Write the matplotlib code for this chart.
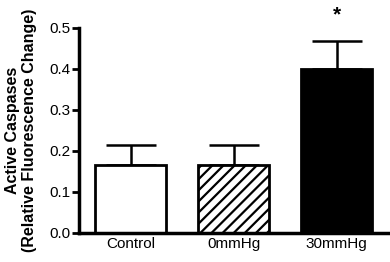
import matplotlib
matplotlib.use("Agg")
import matplotlib.pyplot as plt

plt.rcParams['font.family'] = ['Liberation Sans', 'DejaVu Sans']
plt.rcParams['hatch.linewidth'] = 1.6

categories = ["Control", "0mmHg", "30mmHg"]
means = [0.167, 0.167, 0.399]
errors = [0.048, 0.048, 0.070]
facecolors = ["white", "white", "black"]
hatches = ["", "///", ""]
yticks = [0.0, 0.1, 0.2, 0.3, 0.4, 0.5]
ytick_labels = ["0.0", "0.1", "0.2", "0.3", "0.4", "0.5"]
significance = ["", "", "*"]

fig = plt.figure(figsize=(3.9, 2.62), dpi=100)
ax = fig.add_axes([0.2026, 0.1107, 0.7924, 0.7825])

x = list(range(len(categories)))
for i in x:
    ax.bar(i, means[i], width=0.69, color=facecolors[i], edgecolor="black",
           linewidth=2, hatch=hatches[i], zorder=2)
    ax.errorbar(i, means[i], yerr=[[0], [errors[i]]], fmt="none", ecolor="black",
                elinewidth=1.8, capsize=18, capthick=1.8, zorder=1)
    if significance[i]:
        ax.text(i, means[i] + errors[i] + 0.064, significance[i], ha="center",
                va="center", fontsize=15, fontweight="bold")

ax.set_xlim(-0.5, 2.5)
ax.set_ylim(0, 0.5)
ax.set_xticks(x)
ax.set_xticklabels(categories, fontsize=11)
ax.set_yticks(yticks)
ax.set_yticklabels(ytick_labels, fontsize=11)
ax.tick_params(axis="x", length=0, pad=3)
ax.tick_params(axis="y", length=5, width=2, direction="out", pad=1)
for s in ["top", "right"]:
    ax.spines[s].set_visible(False)
for s in ["left", "bottom"]:
    ax.spines[s].set_linewidth(2.5)
ax.set_ylabel("Active Caspases\n(Relative Fluorescence Change)", fontsize=11.5,
              fontweight="bold", labelpad=9, linespacing=1.15)

fig.savefig("out.png", dpi=100)
